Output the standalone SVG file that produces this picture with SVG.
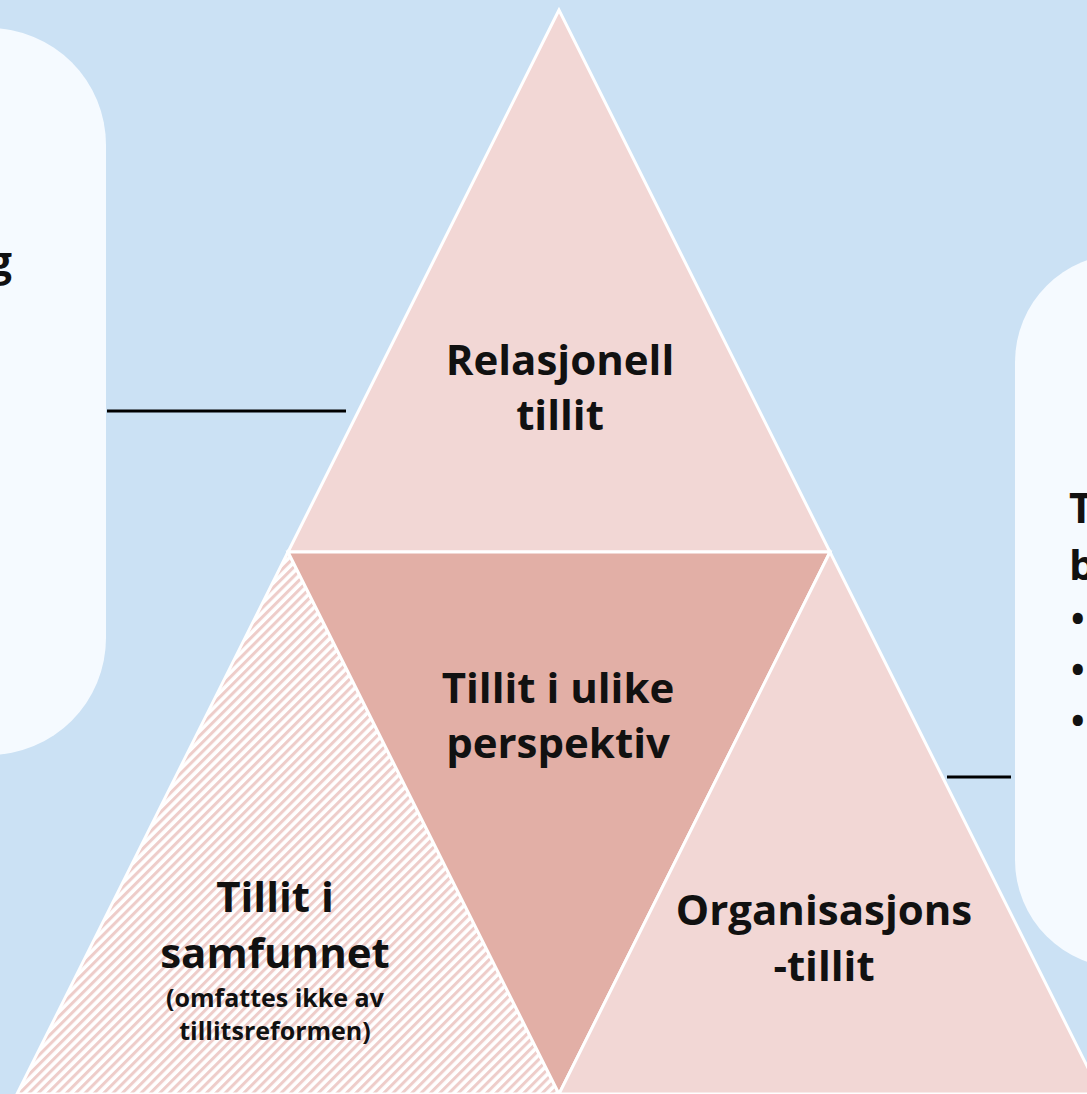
<svg xmlns="http://www.w3.org/2000/svg" width="1087" height="1094" viewBox="0 0 1087 1094">
<defs>
<pattern id="hatch" patternUnits="userSpaceOnUse" width="6.6" height="6.6" patternTransform="rotate(45)">
<rect width="6.6" height="6.6" fill="#ffffff"/>
<rect width="3" height="6.6" fill="#eecdca"/>
</pattern>
<style>
.card{fill:#f5faff}
.tri{stroke:#ffffff;stroke-width:3;stroke-linejoin:miter}
.light{fill:#f2d7d5}
.dark{fill:#e2afa6}
.t{font-family:"Open Sans","Noto Sans","Liberation Sans",sans-serif;font-weight:700;fill:#111111;font-size:42px}
.c{text-anchor:middle}
.s{font-size:25px}
.b{font-size:36px}
.conn{stroke:#000000;stroke-width:3;fill:none}
</style>
</defs>
<rect width="1087" height="1094" fill="#cbe1f4"/>

<g id="left-card">
<rect class="card" x="-140" y="28" width="246" height="727" rx="117" ry="117"/>
<text class="t" x="12" y="276" text-anchor="end">g</text>
</g>

<g id="right-card">
<rect class="card" x="1015" y="254" width="300" height="714" rx="108" ry="108"/>
<text class="t" x="1069" y="523">T</text>
<text class="t" x="1069" y="580">b</text>
<text class="t b" x="1071" y="632">•</text>
<text class="t b" x="1071" y="683">•</text>
<text class="t b" x="1071" y="734">•</text>
</g>

<g id="connectors">
<line class="conn" x1="107" y1="411" x2="346" y2="411"/>
<line class="conn" x1="947" y1="777" x2="1011" y2="777"/>
</g>

<g id="relasjonell">
<polygon class="tri light" points="559,10 288,552 830,552"/>
<text class="t c" x="560" y="375">Relasjonell</text>
<text class="t c" x="560" y="430">tillit</text>
</g>

<g id="samfunnet">
<polygon class="tri" fill="url(#hatch)" points="288,552 17,1094 559,1094"/>
<text class="t c" x="275" y="912">Tillit i</text>
<text class="t c" x="275" y="968">samfunnet</text>
<text class="t c s" x="275" y="1007">(omfattes ikke av</text>
<text class="t c s" x="275" y="1040">tillitsreformen)</text>
</g>

<g id="perspektiv">
<polygon class="tri dark" points="288,552 830,552 559,1094"/>
<text class="t c" x="558" y="703">Tillit i ulike</text>
<text class="t c" x="558" y="758">perspektiv</text>
</g>

<g id="organisasjon">
<polygon class="tri light" points="830,552 559,1094 1101,1094"/>
<text class="t c" x="824" y="925">Organisasjons</text>
<text class="t c" x="824" y="981">-tillit</text>
</g>
</svg>
